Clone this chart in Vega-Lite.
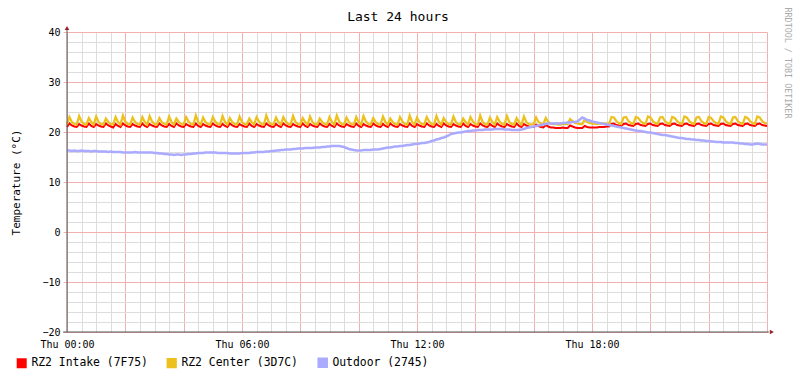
{
"$schema":"https://vega.github.io/schema/vega-lite/v6.json",
"width":700,"height":300,
"autosize":{"type":"none"},
"padding":{"left":67,"top":32,"right":30,"bottom":47},
"background":"white",
"config":{"view":{"stroke":null},"font":"DejaVu Sans Mono"},
"title":{"text":"Last 24 hours","font":"DejaVu Sans Mono","fontSize":13,"fontWeight":"normal","color":"black","anchor":"middle","dx":-19,"offset":-27,"baseline":"alphabetic"},
"datasets":{"d":[
{"m":0,"a":21.0,"b":21.5,"c":16.3},{"m":5,"a":21.7,"b":23.0,"c":16.3},{"m":10,"a":21.3,"b":22.0,"c":16.2},{"m":15,"a":21.1,"b":21.6,"c":16.3},
{"m":20,"a":21.0,"b":21.5,"c":16.2},{"m":25,"a":21.6,"b":23.2,"c":16.2},{"m":30,"a":21.3,"b":22.1,"c":16.3},{"m":35,"a":21.1,"b":21.6,"c":16.2},
{"m":40,"a":21.0,"b":21.5,"c":16.2},{"m":45,"a":21.7,"b":22.8,"c":16.2},{"m":50,"a":21.2,"b":22.0,"c":16.1},
{"m":55,"a":21.0,"b":21.5,"c":16.2},{"m":60,"a":21.6,"b":23.1,"c":16.2},{"m":65,"a":21.3,"b":22.0,"c":16.1},{"m":70,"a":21.1,"b":21.6,"c":16.1},
{"m":75,"a":21.0,"b":21.5,"c":16.1},{"m":80,"a":21.7,"b":22.7,"c":16.1},{"m":85,"a":21.3,"b":22.0,"c":16.0},{"m":90,"a":21.1,"b":21.6,"c":16.1},
{"m":95,"a":20.9,"b":21.5,"c":16.0},{"m":100,"a":21.6,"b":23.0,"c":16.0},{"m":105,"a":21.2,"b":22.0,"c":16.0},
{"m":110,"a":21.0,"b":21.5,"c":16.0},{"m":115,"a":21.7,"b":23.3,"c":15.9},{"m":120,"a":21.3,"b":22.1,"c":15.9},{"m":125,"a":21.1,"b":21.6,"c":15.9},
{"m":130,"a":21.0,"b":21.5,"c":15.9},{"m":135,"a":21.6,"b":22.9,"c":15.9},{"m":140,"a":21.3,"b":22.0,"c":16.0},{"m":145,"a":21.1,"b":21.6,"c":15.9},
{"m":150,"a":21.0,"b":21.5,"c":15.9},{"m":155,"a":21.7,"b":23.0,"c":15.9},{"m":160,"a":21.2,"b":22.0,"c":15.9},
{"m":165,"a":21.0,"b":21.5,"c":15.9},{"m":170,"a":21.6,"b":23.2,"c":15.9},{"m":175,"a":21.3,"b":22.1,"c":15.9},{"m":180,"a":21.1,"b":21.6,"c":15.8},
{"m":185,"a":21.0,"b":21.5,"c":15.8},{"m":190,"a":21.7,"b":22.8,"c":15.7},{"m":195,"a":21.3,"b":22.0,"c":15.7},{"m":200,"a":21.1,"b":21.6,"c":15.6},
{"m":205,"a":21.0,"b":21.5,"c":15.6},{"m":210,"a":21.6,"b":23.1,"c":15.5},{"m":215,"a":21.2,"b":22.0,"c":15.5},
{"m":220,"a":21.0,"b":21.5,"c":15.4},{"m":225,"a":21.7,"b":22.7,"c":15.5},{"m":230,"a":21.3,"b":22.0,"c":15.5},{"m":235,"a":21.1,"b":21.6,"c":15.4},
{"m":240,"a":21.0,"b":21.5,"c":15.5},{"m":245,"a":21.6,"b":23.0,"c":15.5},{"m":250,"a":21.3,"b":22.1,"c":15.6},{"m":255,"a":21.1,"b":21.6,"c":15.6},
{"m":260,"a":21.0,"b":21.5,"c":15.7},{"m":265,"a":21.7,"b":23.3,"c":15.7},{"m":270,"a":21.2,"b":22.0,"c":15.8},
{"m":275,"a":21.0,"b":21.5,"c":15.8},{"m":280,"a":21.6,"b":22.9,"c":15.8},{"m":285,"a":21.3,"b":22.0,"c":15.9},{"m":290,"a":21.1,"b":21.6,"c":15.9},
{"m":295,"a":21.0,"b":21.5,"c":15.9},{"m":300,"a":21.7,"b":23.0,"c":15.9},{"m":305,"a":21.3,"b":22.1,"c":15.9},{"m":310,"a":21.1,"b":21.6,"c":15.8},
{"m":315,"a":21.0,"b":21.5,"c":15.8},{"m":320,"a":21.6,"b":23.2,"c":15.8},{"m":325,"a":21.2,"b":22.0,"c":15.8},
{"m":330,"a":21.0,"b":21.5,"c":15.8},{"m":335,"a":21.7,"b":22.8,"c":15.7},{"m":340,"a":21.3,"b":22.0,"c":15.7},{"m":345,"a":21.1,"b":21.6,"c":15.7},
{"m":350,"a":21.0,"b":21.5,"c":15.7},{"m":355,"a":21.6,"b":23.1,"c":15.7},{"m":360,"a":21.3,"b":22.0,"c":15.8},{"m":365,"a":21.1,"b":21.6,"c":15.8},
{"m":370,"a":21.0,"b":21.5,"c":15.8},{"m":375,"a":21.7,"b":22.7,"c":15.8},{"m":380,"a":21.2,"b":22.0,"c":15.9},
{"m":385,"a":21.0,"b":21.5,"c":15.9},{"m":390,"a":21.6,"b":23.0,"c":16.0},{"m":395,"a":21.3,"b":22.1,"c":16.0},{"m":400,"a":21.1,"b":21.6,"c":16.0},
{"m":405,"a":21.0,"b":21.5,"c":16.0},{"m":410,"a":21.7,"b":23.3,"c":16.1},{"m":415,"a":21.3,"b":22.0,"c":16.1},{"m":420,"a":21.1,"b":21.6,"c":16.2},
{"m":425,"a":21.0,"b":21.5,"c":16.2},{"m":430,"a":21.6,"b":22.9,"c":16.3},{"m":435,"a":21.2,"b":22.0,"c":16.3},
{"m":440,"a":21.0,"b":21.5,"c":16.4},{"m":445,"a":21.7,"b":23.0,"c":16.4},{"m":450,"a":21.3,"b":22.1,"c":16.5},{"m":455,"a":21.1,"b":21.6,"c":16.5},
{"m":460,"a":21.0,"b":21.5,"c":16.5},{"m":465,"a":21.6,"b":23.2,"c":16.6},{"m":470,"a":21.3,"b":22.0,"c":16.6},{"m":475,"a":21.1,"b":21.6,"c":16.7},
{"m":480,"a":21.0,"b":21.5,"c":16.7},{"m":485,"a":21.7,"b":22.8,"c":16.7},{"m":490,"a":21.2,"b":22.0,"c":16.8},
{"m":495,"a":21.0,"b":21.5,"c":16.8},{"m":500,"a":21.6,"b":23.1,"c":16.8},{"m":505,"a":21.3,"b":22.0,"c":16.8},{"m":510,"a":21.1,"b":21.6,"c":16.9},
{"m":515,"a":21.0,"b":21.5,"c":16.9},{"m":520,"a":21.7,"b":22.7,"c":16.9},{"m":525,"a":21.3,"b":22.0,"c":17.0},{"m":530,"a":21.1,"b":21.6,"c":17.0},
{"m":535,"a":21.0,"b":21.5,"c":17.1},{"m":540,"a":21.6,"b":23.0,"c":17.1},{"m":545,"a":21.2,"b":22.0,"c":17.2},
{"m":550,"a":21.0,"b":21.5,"c":17.2},{"m":555,"a":21.7,"b":23.3,"c":17.2},{"m":560,"a":21.3,"b":22.1,"c":17.2},{"m":565,"a":21.1,"b":21.6,"c":17.1},
{"m":570,"a":21.0,"b":21.5,"c":17.0},{"m":575,"a":21.6,"b":22.9,"c":16.8},{"m":580,"a":21.3,"b":22.0,"c":16.6},{"m":585,"a":21.1,"b":21.6,"c":16.5},
{"m":590,"a":21.0,"b":21.5,"c":16.4},{"m":595,"a":21.7,"b":23.0,"c":16.3},{"m":600,"a":21.2,"b":22.0,"c":16.3},
{"m":605,"a":21.0,"b":21.5,"c":16.3},{"m":610,"a":21.6,"b":23.2,"c":16.4},{"m":615,"a":21.3,"b":22.1,"c":16.4},{"m":620,"a":21.1,"b":21.6,"c":16.4},
{"m":625,"a":21.0,"b":21.5,"c":16.4},{"m":630,"a":21.7,"b":22.8,"c":16.5},{"m":635,"a":21.3,"b":22.0,"c":16.5},{"m":640,"a":21.1,"b":21.6,"c":16.5},
{"m":645,"a":21.0,"b":21.5,"c":16.6},{"m":650,"a":21.6,"b":23.1,"c":16.7},{"m":655,"a":21.2,"b":22.0,"c":16.8},
{"m":660,"a":21.0,"b":21.5,"c":16.9},{"m":665,"a":21.7,"b":22.7,"c":16.9},{"m":670,"a":21.3,"b":22.0,"c":17.0},{"m":675,"a":21.1,"b":21.6,"c":17.1},
{"m":680,"a":21.0,"b":21.5,"c":17.1},{"m":685,"a":21.6,"b":23.0,"c":17.2},{"m":690,"a":21.3,"b":22.1,"c":17.2},{"m":695,"a":21.1,"b":21.6,"c":17.3},
{"m":700,"a":21.0,"b":21.5,"c":17.4},{"m":705,"a":21.7,"b":23.3,"c":17.4},{"m":710,"a":21.2,"b":22.0,"c":17.5},
{"m":715,"a":21.0,"b":21.5,"c":17.6},{"m":720,"a":21.6,"b":22.9,"c":17.6},{"m":725,"a":21.3,"b":22.0,"c":17.7},{"m":730,"a":21.1,"b":21.6,"c":17.8},
{"m":735,"a":21.0,"b":21.5,"c":17.8},{"m":740,"a":21.7,"b":23.0,"c":17.9},{"m":745,"a":21.3,"b":22.1,"c":18.0},{"m":750,"a":21.1,"b":21.6,"c":18.2},
{"m":755,"a":21.0,"b":21.5,"c":18.3},{"m":760,"a":21.6,"b":23.2,"c":18.5},{"m":765,"a":21.2,"b":22.0,"c":18.6},
{"m":770,"a":21.0,"b":21.5,"c":18.8},{"m":775,"a":21.7,"b":22.8,"c":18.9},{"m":780,"a":21.3,"b":22.0,"c":19.1},{"m":785,"a":21.1,"b":21.6,"c":19.3},
{"m":790,"a":21.0,"b":21.5,"c":19.6},{"m":795,"a":21.6,"b":23.1,"c":19.7},{"m":800,"a":21.3,"b":22.0,"c":19.8},{"m":805,"a":21.1,"b":21.6,"c":19.9},
{"m":810,"a":21.0,"b":21.5,"c":19.9},{"m":815,"a":21.7,"b":22.7,"c":20.0},{"m":820,"a":21.2,"b":22.0,"c":20.1},
{"m":825,"a":21.0,"b":21.5,"c":20.2},{"m":830,"a":21.6,"b":23.0,"c":20.2},{"m":835,"a":21.3,"b":22.1,"c":20.3},{"m":840,"a":21.1,"b":21.6,"c":20.3},
{"m":845,"a":21.0,"b":21.5,"c":20.4},{"m":850,"a":21.7,"b":23.3,"c":20.4},{"m":855,"a":21.3,"b":22.0,"c":20.4},{"m":860,"a":21.1,"b":21.6,"c":20.5},
{"m":865,"a":21.0,"b":21.5,"c":20.5},{"m":870,"a":21.6,"b":22.9,"c":20.5},{"m":875,"a":21.2,"b":22.0,"c":20.5},
{"m":880,"a":21.0,"b":21.5,"c":20.6},{"m":885,"a":21.7,"b":23.0,"c":20.6},{"m":890,"a":21.3,"b":22.1,"c":20.6},{"m":895,"a":21.1,"b":21.6,"c":20.6},
{"m":900,"a":21.0,"b":21.5,"c":20.5},{"m":905,"a":21.6,"b":23.2,"c":20.5},{"m":910,"a":21.3,"b":22.0,"c":20.5},{"m":915,"a":21.1,"b":21.6,"c":20.4},
{"m":920,"a":21.0,"b":21.5,"c":20.4},{"m":925,"a":21.7,"b":22.8,"c":20.4},{"m":930,"a":21.2,"b":22.0,"c":20.4},
{"m":935,"a":21.0,"b":21.5,"c":20.5},{"m":940,"a":21.6,"b":23.1,"c":20.6},{"m":945,"a":21.3,"b":22.0,"c":20.8},{"m":950,"a":21.1,"b":21.6,"c":20.9},
{"m":955,"a":21.0,"b":21.5,"c":21.0},
{"m":960,"a":21.0,"b":21.6,"c":21.1},{"m":965,"a":21.5,"b":22.9,"c":21.2},{"m":970,"a":21.2,"b":22.0,"c":21.3},{"m":975,"a":21.0,"b":21.7,"c":21.4},
{"m":980,"a":20.9,"b":21.6,"c":21.5},{"m":985,"a":21.4,"b":22.8,"c":21.6},{"m":990,"a":21.1,"b":22.0,"c":21.7},{"m":995,"a":20.9,"b":21.7,"c":21.7},
{"m":1000,"a":20.9,"b":21.6,"c":21.7},{"m":1005,"a":20.8,"b":21.6,"c":21.7},{"m":1010,"a":20.8,"b":21.5,"c":21.7},{"m":1015,"a":20.8,"b":21.5,"c":21.7},
{"m":1020,"a":20.9,"b":21.6,"c":21.8},{"m":1025,"a":20.8,"b":21.6,"c":21.8},{"m":1030,"a":20.8,"b":21.6,"c":21.9},{"m":1035,"a":21.3,"b":22.6,"c":21.9},
{"m":1040,"a":21.1,"b":22.2,"c":22.0},{"m":1045,"a":20.9,"b":21.8,"c":22.0},{"m":1050,"a":20.8,"b":21.7,"c":22.1},{"m":1055,"a":20.8,"b":21.6,"c":22.5},
{"m":1060,"a":20.8,"b":21.6,"c":22.9},{"m":1065,"a":21.2,"b":22.5,"c":22.7},{"m":1070,"a":21.0,"b":22.0,"c":22.4},{"m":1075,"a":20.9,"b":21.8,"c":22.3},
{"m":1080,"a":20.9,"b":21.7,"c":22.1},{"m":1085,"a":20.9,"b":21.7,"c":22.0},{"m":1090,"a":20.9,"b":21.6,"c":21.9},{"m":1095,"a":21.0,"b":21.7,"c":21.8},
{"m":1100,"a":21.0,"b":21.7,"c":21.7},{"m":1105,"a":21.0,"b":21.7,"c":21.6},{"m":1110,"a":21.1,"b":21.7,"c":21.5},{"m":1115,"a":21.1,"b":21.6,"c":21.4},
{"m":1120,"a":21.6,"b":23.0,"c":21.3},{"m":1125,"a":21.7,"b":22.9,"c":21.2},{"m":1130,"a":21.4,"b":22.2,"c":21.1},{"m":1135,"a":21.3,"b":21.8,"c":21.0},{"m":1140,"a":21.2,"b":21.6,"c":20.9},
{"m":1145,"a":21.6,"b":22.9,"c":20.8},{"m":1150,"a":21.7,"b":23.0,"c":20.7},{"m":1155,"a":21.4,"b":22.2,"c":20.6},{"m":1160,"a":21.3,"b":21.8,"c":20.5},{"m":1165,"a":21.2,"b":21.6,"c":20.4},
{"m":1170,"a":21.6,"b":23.0,"c":20.3},{"m":1175,"a":21.7,"b":22.8,"c":20.2},{"m":1180,"a":21.4,"b":22.2,"c":20.2},{"m":1185,"a":21.3,"b":21.8,"c":20.1},{"m":1190,"a":21.2,"b":21.6,"c":20.0},
{"m":1195,"a":21.6,"b":23.1,"c":19.9},{"m":1200,"a":21.7,"b":22.9,"c":19.9},{"m":1205,"a":21.4,"b":22.2,"c":19.8},{"m":1210,"a":21.3,"b":21.8,"c":19.7},{"m":1215,"a":21.2,"b":21.6,"c":19.6},
{"m":1220,"a":21.6,"b":22.9,"c":19.5},{"m":1225,"a":21.7,"b":23.0,"c":19.4},{"m":1230,"a":21.4,"b":22.2,"c":19.4},{"m":1235,"a":21.3,"b":21.8,"c":19.3},{"m":1240,"a":21.2,"b":21.6,"c":19.2},
{"m":1245,"a":21.6,"b":23.0,"c":19.1},{"m":1250,"a":21.7,"b":22.8,"c":19.0},{"m":1255,"a":21.4,"b":22.2,"c":18.9},{"m":1260,"a":21.3,"b":21.8,"c":18.8},{"m":1265,"a":21.2,"b":21.6,"c":18.8},
{"m":1270,"a":21.6,"b":23.1,"c":18.7},{"m":1275,"a":21.7,"b":22.9,"c":18.6},{"m":1280,"a":21.4,"b":22.2,"c":18.6},{"m":1285,"a":21.3,"b":21.8,"c":18.5},{"m":1290,"a":21.2,"b":21.6,"c":18.5},
{"m":1295,"a":21.6,"b":22.9,"c":18.4},{"m":1300,"a":21.7,"b":23.0,"c":18.4},{"m":1305,"a":21.4,"b":22.2,"c":18.3},{"m":1310,"a":21.3,"b":21.8,"c":18.3},{"m":1315,"a":21.2,"b":21.6,"c":18.2},
{"m":1320,"a":21.6,"b":23.0,"c":18.2},{"m":1325,"a":21.7,"b":22.8,"c":18.1},{"m":1330,"a":21.4,"b":22.2,"c":18.1},{"m":1335,"a":21.3,"b":21.8,"c":18.0},{"m":1340,"a":21.2,"b":21.6,"c":18.0},
{"m":1345,"a":21.6,"b":23.1,"c":18.0},{"m":1350,"a":21.7,"b":22.9,"c":17.9},{"m":1355,"a":21.4,"b":22.2,"c":17.9},{"m":1360,"a":21.3,"b":21.8,"c":17.9},{"m":1365,"a":21.2,"b":21.6,"c":17.9},
{"m":1370,"a":21.6,"b":22.9,"c":17.9},{"m":1375,"a":21.7,"b":23.0,"c":17.8},{"m":1380,"a":21.4,"b":22.2,"c":17.8},{"m":1385,"a":21.3,"b":21.8,"c":17.7},{"m":1390,"a":21.2,"b":21.6,"c":17.7},
{"m":1395,"a":21.6,"b":23.0,"c":17.6},{"m":1400,"a":21.7,"b":22.8,"c":17.6},{"m":1405,"a":21.4,"b":22.2,"c":17.5},{"m":1410,"a":21.3,"b":21.8,"c":17.5},{"m":1415,"a":21.2,"b":21.6,"c":17.6},
{"m":1420,"a":21.6,"b":23.1,"c":17.7},{"m":1425,"a":21.7,"b":22.9,"c":17.6},{"m":1430,"a":21.4,"b":22.2,"c":17.5},{"m":1435,"a":21.3,"b":21.8,"c":17.5},{"m":1440,"a":21.2,"b":21.7,"c":17.5}
]},
"resolve":{"axis":{"x":"independent","y":"independent"}},
"layer":[
{
"data":{"name":"d"},
"transform":[{"fold":["a","b","c"],"as":["s","v"]}],
"mark":{"type":"line","clip":false},
"encoding":{
"x":{"field":"m","type":"quantitative","scale":{"domain":[0,1440],"nice":false,"zero":false},
"axis":{"orient":"top","values":[30,60,90,150,180,210,270,300,330,390,420,450,510,540,570,630,660,690,750,780,810,870,900,930,990,1020,1050,1110,1140,1170,1230,1260,1290,1350,1380,1410],"grid":true,"gridColor":"#dddddd","gridOpacity":1,"labels":false,"ticks":false,"domain":false,"title":null,"zindex":0}},
"y":{"field":"v","type":"quantitative","scale":{"domain":[-20,40],"nice":false,"zero":false},
"axis":{"orient":"right","values":[-18,-16,-14,-12,-8,-6,-4,-2,2,4,6,8,12,14,16,18,22,24,26,28,32,34,36,38],"grid":true,"gridColor":"#dddddd","gridOpacity":1,"labels":false,"ticks":false,"domain":false,"zindex":0,
"title":"RRDTOOL / TOBI OETIKER","titleFont":"DejaVu Sans Mono","titleFontSize":8.4,"titleFontWeight":"normal","titleColor":"#aaaaaa","titleAngle":90,"titleX":20,"titleY":-25,"titleAlign":"left","titleBaseline":"middle"}},
"strokeWidth":{"field":"s","type":"nominal","scale":{"domain":["a","b","c"],"range":[2,2.5,2.5]},"legend":null},
"color":{"field":"s","type":"nominal","scale":{"domain":["a","b","c"],"range":["#ff0000","#ecc11e","#aaaaff"]},
"legend":{"orient":"none","legendX":-51,"legendY":325,"direction":"horizontal","title":null,"labelFont":"DejaVu Sans Mono","labelFontSize":11.4,"labelColor":"black","labelOffset":4,"columnPadding":15,"symbolType":"square","symbolSize":64,"symbolStrokeWidth":1,"padding":0,
"labelExpr":"datum.label == 'a' ? 'RZ2 Intake (7F75)' : datum.label == 'b' ? 'RZ2 Center (3D7C)' : 'Outdoor (2745)'",
"encode":{"symbols":{"update":{"fill":{"scale":"color","field":"value"},"stroke":{"value":"black"},"strokeWidth":{"value":1},"opacity":{"value":1},"fillOpacity":{"value":1}}}}}}
}
},
{
"data":{"values":[{"x1":0,"x2":0,"y1":-20,"y2":40.6},{"x1":-8,"x2":1444,"y1":-20,"y2":-20}]},
"mark":{"type":"rule","color":"#555555","strokeWidth":1,"clip":false},
"encoding":{
"x":{"field":"x1","type":"quantitative","scale":{"domain":[0,1440],"nice":false,"zero":false},
"axis":{"orient":"bottom","values":[0,120,240,360,480,600,720,840,960,1080,1200,1320,1440],"grid":true,"gridColor":"#f3b0b0","gridOpacity":1,"ticks":false,"domain":false,"title":null,"zindex":0,
"labelExpr":"datum.value % 360 == 0 && datum.value < 1440 ? 'Thu ' + (datum.value < 600 ? '0' : '') + (datum.value / 60) + ':00' : ''",
"labelFont":"DejaVu Sans Mono","labelFontSize":10,"labelColor":"black","labelPadding":7,"labelFlush":false,"labelOverlap":false}},
"x2":{"field":"x2"},
"y":{"field":"y1","type":"quantitative","scale":{"domain":[-20,40],"nice":false,"zero":false},
"axis":{"orient":"left","values":[-20,-10,0,10,20,30,40],"grid":true,"gridColor":"#f3b0b0","gridOpacity":1,"ticks":true,"tickSize":4,"tickColor":"#f3b0b0","domain":false,"zindex":0,
"labelFont":"DejaVu Sans Mono","labelFontSize":10,"labelColor":"black","labelPadding":3,
"title":"Temperature (°C)","titleFont":"DejaVu Sans Mono","titleFontSize":11,"titleFontWeight":"normal","titleColor":"black","titleX":-51,"titleY":150,"titleAngle":-90,"titleAlign":"center","titleBaseline":"middle"}},
"y2":{"field":"y2"}
}
},
{
"data":{"values":[{"x":0,"y":40.8,"sh":"triangle-up"},{"x":1450,"y":-20,"sh":"triangle-right"}]},
"mark":{"type":"point","filled":true,"color":"#992222","size":22,"opacity":1,"clip":false},
"encoding":{
"x":{"field":"x","type":"quantitative","scale":{"domain":[0,1440],"nice":false,"zero":false},"axis":null},
"y":{"field":"y","type":"quantitative","scale":{"domain":[-20,40],"nice":false,"zero":false},"axis":null},
"shape":{"field":"sh","type":"nominal","scale":null,"legend":null}
}
}
]
}
